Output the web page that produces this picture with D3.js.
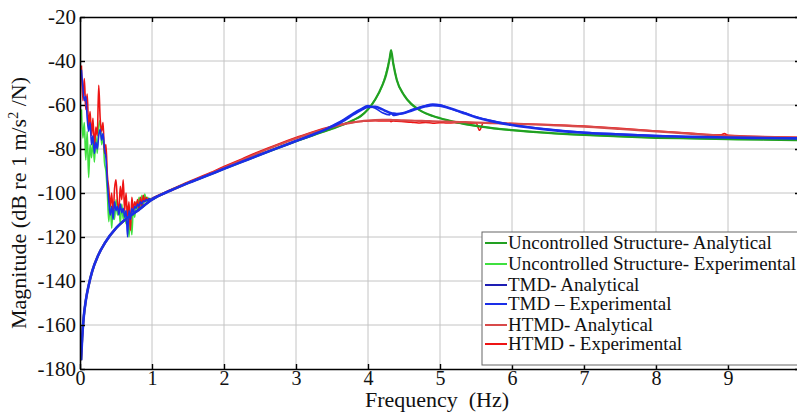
<!DOCTYPE html>
<html>
<head>
<meta charset="utf-8">
<script src="https://cdnjs.cloudflare.com/ajax/libs/d3/7.8.5/d3.min.js"></script>
<style>
  body { margin: 0; background: #fff; }
  svg { display: block; }
</style>
</head>
<body>
<script>
// frequency (Hz) points for the analytical curves
var freqA = [0.015,0.03,0.05,0.08,0.12,0.17,0.25,0.35,0.5,0.65,0.8,1.0,1.25,1.5,1.75,
  2.0,2.25,2.5,2.75,3.0,3.25,3.5,3.65,3.8,3.9,4.0,4.1,4.2,4.25,4.3,4.32,4.35,4.4,
  4.5,4.6,4.7,4.8,4.9,5.0,5.1,5.2,5.35,5.5,5.7,6.0,6.5,7.0,7.5,8.0,8.5,9.0,9.5,10.0];

// uncontrolled structure - analytical
var uncAnalytical = [-176,-166,-157,-149,-142,-135.5,-128.5,-122.5,-116,-111.5,-108,-103,-99,-95.5,-92.3,
  -89,-85.8,-82.6,-79.5,-76.5,-73.6,-70.8,-69,-66.8,-65,-62,-57.5,-51,-46.5,-39,-35,-41,-48.6,
  -55.5,-59.5,-62,-63.8,-65,-66,-66.9,-67.7,-68.7,-69.5,-70.4,-71.4,-72.7,-73.6,-74.3,-74.9,-75.2,-75.5,-75.7,-76];

// TMD - analytical
var tmdAnalytical = [-176,-166,-157,-149,-142,-135.5,-128.5,-122.5,-116,-111.5,-108,-103,-99,-95.5,-92.3,
  -89,-85.8,-82.6,-79.5,-76.4,-73.3,-69.8,-67.3,-64.2,-62.3,-60.9,-60.8,-62,-62.8,-63.5,-63.7,-63.9,-64.1,
  -63.6,-62.6,-61.5,-60.6,-60.1,-60.3,-61.1,-62.1,-63.9,-65.6,-67.3,-69.1,-71.2,-72.6,-73.4,-74.1,-74.5,-74.8,-75,-75.2];

// HTMD - analytical
var htmdAnalytical = [-176,-166,-157,-149,-142,-135.5,-128.5,-122.5,-116,-111.5,-108,-103,-99,-95.5,-92,
  -88.5,-85,-81.5,-78.2,-75.2,-72.4,-70,-68.8,-67.9,-67.4,-67.1,-66.9,-66.8,-66.8,-66.8,-66.8,-66.9,-66.9,
  -67,-67.1,-67.2,-67.3,-67.4,-67.5,-67.6,-67.7,-67.8,-68,-68.2,-68.5,-69.1,-69.8,-70.9,-72,-73.1,-74,-74.5,-74.8];

// frequency points for the measured curves (low band, noisy)
var freqExpLow = [0.02,0.04,0.06,0.08,0.10,0.12,0.14,0.16,0.18,0.20,0.22,0.24,0.26,0.28,0.30,0.32,0.34,0.36,0.38,0.40,
  0.42,0.44,0.46,0.48,0.50,0.52,0.54,0.56,0.58,0.60,0.62,0.64,0.66,0.68,0.70,0.72,0.74,0.76,0.78,0.80,
  0.82,0.84,0.86,0.88,0.90,0.92,0.94,0.96,0.98,1.00];
// frequency points for the measured curves (above 1 Hz)
var freqExpHigh = [1.1,1.25,1.5,1.75,2.0,2.25,2.5,2.75,3.0,3.25,3.5,3.65,3.8,3.9,4.0,4.1,4.2,4.3,4.32,4.35,
  4.4,4.5,4.6,4.7,4.8,4.9,5.0,5.1,5.2,5.35,5.5,5.55,5.6,5.7,6.0,6.5,7.0,7.5,8.0,8.5,8.9,8.95,9.0,9.5,10.0];

// uncontrolled structure - experimental
var uncExpLow = [-62,-75,-68,-85,-72,-93,-78,-84,-76,-86,-74,-82,-70,-67,-78,-74,-86,-90,-100,-113,
  -104,-116,-106,-112,-103,-110,-106,-114,-105,-112,-108,-114,-106,-120,-110,-119,-107,-111,-104,-108,
  -102,-106,-101,-105,-100.5,-104,-102,-103.5,-102.5,-103];
var uncExpHigh = [-101,-99,-95.5,-92.3,-89,-85.8,-82.6,-79.5,-76.5,-73.6,-70.8,-69,-66.8,-65,-62,-57.5,-51,-39,-36,-41,
  -48.6,-55.5,-59.5,-62,-63.8,-65,-66,-66.9,-67.7,-68.7,-69.5,-69.7,-69.9,-70.4,-71.4,-72.7,-73.6,-74.3,-74.9,-75.2,
  -75.4,-75.4,-75.5,-75.7,-76];

// TMD - experimental
var tmdExpLow = [-44,-52,-58,-56,-66,-72,-68,-78,-74,-82,-77,-80,-74,-71,-76,-73,-80,-84,-95,-104,
  -110,-106,-112,-104,-108,-106,-110,-105,-109,-107,-111,-108,-120,-108,-112,-107,-109,-106,-107,-105,
  -106,-104,-105,-103.5,-104,-103,-103.5,-102.5,-103,-102.5];
var tmdExpHigh = [-101,-98.8,-95.3,-92.1,-88.8,-85.6,-82.4,-79.3,-76.2,-73,-69.4,-66.8,-63.6,-61.8,-60.3,-61.5,-63.5,-64.5,-63.4,-64.8,
  -64.5,-63.8,-62.2,-61.2,-60.2,-59.6,-59.9,-61,-62.4,-63.6,-65.4,-65.9,-66.3,-67,-68.9,-71,-72.4,-73.2,-73.9,-74.4,
  -74.6,-74.7,-74.7,-74.9,-75.1];

// HTMD - experimental
var htmdExpLow = [-42,-58,-48,-62,-55,-70,-63,-74,-66,-80,-70,-74,-51,-66,-72,-68,-82,-78,-92,-98,
  -106,-100,-110,-98,-94,-104,-108,-97,-103,-94,-108,-100,-112,-104,-117,-102,-108,-104,-106,-103,
  -108,-102,-106,-101,-104,-102,-103.5,-102.5,-103,-102.5];
var htmdExpHigh = [-100.8,-98.6,-95,-91.6,-88,-84.5,-81,-77.8,-74.8,-72,-69.7,-68.6,-67.8,-67.5,-67.2,-67.1,-67.3,-67.2,-67.6,-67.3,
  -67.4,-67.6,-67.8,-68.2,-67.9,-68.3,-68,-68.2,-68.1,-68.3,-68.2,-71.5,-68.3,-68.3,-68.4,-68.9,-69.6,-70.6,-71.8,-72.9,
  -73.6,-73.0,-73.8,-74.4,-74.7];

var xTicks = [0,1,2,3,4,5,6,7,8,9];
var yTicks = [-180,-160,-140,-120,-100,-80,-60,-40,-20];

var legendNames = ['Uncontrolled Structure- Analytical','Uncontrolled Structure- Experimental',
  'TMD- Analytical','TMD \u2013 Experimental','HTMD- Analytical','HTMD - Experimental'];
var colors = ['#22a022','#3fe03f','#1e1eb4','#1a2ee8','#d84a4a','#ee1414'];

//1. svg + scales
var w = 797,
    h = 417,
    svg = d3.select('body')
            .append('svg')
            .attr('width', w)
            .attr('height', h)
            .style('font-family', '"Liberation Serif", "Times New Roman", serif');

var x = d3.scaleLinear().domain([0, 10]).range([80, 800]);
var y = d3.scaleLinear().domain([-180, -20]).range([369, 17]);

//2. grid
svg.append('g').selectAll('line')
    .data(xTicks.slice(1))
    .enter().append('line')
    .attr('x1', function(d){ return x(d); })
    .attr('x2', function(d){ return x(d); })
    .attr('y1', y(-20)).attr('y2', y(-180))
    .attr('stroke', '#c4c4c4').attr('stroke-width', 1);

svg.append('g').selectAll('line')
    .data(yTicks.slice(1, -1))
    .enter().append('line')
    .attr('y1', function(d){ return y(d); })
    .attr('y2', function(d){ return y(d); })
    .attr('x1', x(0)).attr('x2', x(10))
    .attr('stroke', '#c4c4c4').attr('stroke-width', 1);

//3. curves
svg.append('clipPath').attr('id', 'plotclip')
    .append('rect')
    .attr('x', x(0)).attr('y', y(-20))
    .attr('width', x(10) - x(0)).attr('height', y(-180) - y(-20));

function pairs(fs, vs){
  return fs.map(function(f, i){ return [f, vs[i]]; });
}

var series = [
  { data: pairs(freqExpLow.concat(freqExpHigh), uncExpLow.concat(uncExpHigh)), color: colors[1], width: 1.6 },
  { data: pairs(freqExpLow.concat(freqExpHigh), htmdExpLow.concat(htmdExpHigh)), color: colors[5], width: 1.6 },
  { data: pairs(freqExpLow.concat(freqExpHigh), tmdExpLow.concat(tmdExpHigh)), color: colors[3], width: 1.6 },
  { data: pairs(freqA, uncAnalytical), color: colors[0], width: 2.2 },
  { data: pairs(freqA, htmdAnalytical), color: colors[4], width: 2.2 },
  { data: pairs(freqA, tmdAnalytical), color: colors[3], width: 2.6 }
];

var line = d3.line()
    .x(function(d){ return x(d[0]); })
    .y(function(d){ return y(d[1]); })
    .curve(d3.curveMonotoneX);

svg.append('g').attr('clip-path', 'url(#plotclip)')
    .selectAll('path')
    .data(series)
    .enter().append('path')
    .attr('d', function(d){ return line(d.data); })
    .attr('fill', 'none')
    .attr('stroke', function(d){ return d.color; })
    .attr('stroke-width', function(d){ return d.width; })
    .attr('stroke-linejoin', 'round');

//4. axes (ticks pointing inwards, matlab style)
var fmt = function(d){ return String(d); };

var gx = svg.append('g').attr('transform', 'translate(0,' + y(-180) + ')')
    .call(d3.axisBottom(x).tickValues(xTicks).tickFormat(fmt).tickSizeInner(-5).tickSizeOuter(0).tickPadding(2));
var gxt = svg.append('g').attr('transform', 'translate(0,' + y(-20) + ')')
    .call(d3.axisTop(x).tickValues(xTicks).tickFormat('').tickSizeInner(-5).tickSizeOuter(0));
var gy = svg.append('g').attr('transform', 'translate(' + x(0) + ',0)')
    .call(d3.axisLeft(y).tickValues(yTicks).tickFormat(fmt).tickSizeInner(-5).tickSizeOuter(0).tickPadding(4));
var gyr = svg.append('g').attr('transform', 'translate(' + x(10) + ',0)')
    .call(d3.axisRight(y).tickValues(yTicks).tickFormat('').tickSizeInner(-5).tickSizeOuter(0));

[gx, gxt, gy, gyr].forEach(function(g){
  g.select('.domain').attr('stroke', '#000').attr('stroke-width', 1.6);
  g.selectAll('.tick line').attr('stroke', '#000').attr('stroke-width', 1.4);
  g.selectAll('.tick text')
    .attr('font-family', '"Liberation Serif", "Times New Roman", serif')
    .attr('font-size', '21px')
    .attr('fill', '#111');
});
gx.selectAll('.tick text').attr('font-size', '20px');

//5. axis titles
svg.append('text')
    .attr('x', 437).attr('y', 407)
    .attr('text-anchor', 'middle')
    .attr('font-size', '22px')
    .attr('fill', '#111')
    .text('Frequency  (Hz)')
    .style('white-space', 'pre');

var yl = svg.append('text')
    .attr('transform', 'translate(26,203) rotate(-90)')
    .attr('text-anchor', 'middle')
    .attr('font-size', '22px')
    .attr('fill', '#111');
yl.append('tspan').text('Magnitude (dB re 1 m/s');
yl.append('tspan').text('2').attr('font-size', '14px').attr('dy', '-8');
yl.append('tspan').text(' /N)').attr('dy', '8');

//6. legend
var lg = svg.append('g');
lg.append('rect')
    .attr('x', 482).attr('y', 232)
    .attr('width', 330).attr('height', 133)
    .attr('fill', '#fff')
    .attr('stroke', '#666').attr('stroke-width', 1);

var rowY = [243, 264, 285, 304, 325, 344];

var items = lg.selectAll('g.item')
    .data(legendNames)
    .enter().append('g').attr('class', 'item')
    .attr('transform', function(d, i){ return 'translate(0,' + rowY[i] + ')'; });

items.append('line')
    .attr('x1', 485).attr('x2', 507)
    .attr('stroke', function(d, i){ return colors[i]; })
    .attr('stroke-width', 2);

items.append('text')
    .attr('x', 508).attr('y', 6)
    .attr('font-size', '19px')
    .attr('fill', '#111')
    .text(function(d){ return d; });
</script>
</body>
</html>
